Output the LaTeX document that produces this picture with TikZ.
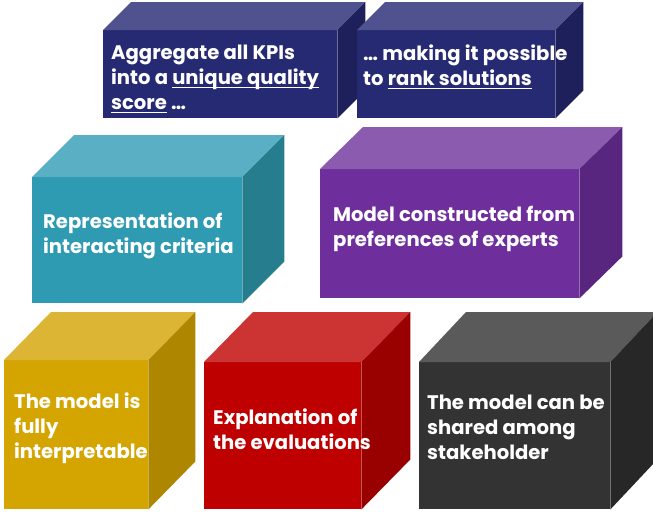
\documentclass[tikz,border=0pt]{standalone}
\usepackage{fontspec}
\setmainfont{Poppins}
\newsavebox\ulbox
\newcommand{\ulword}[1]{\sbox\ulbox{#1}\rlap{\rule[-3.5pt]{\wd\ulbox}{1.4pt}}\usebox\ulbox}
\definecolor{navyFront}{HTML}{262A72}
\definecolor{navyTop}{HTML}{50528F}
\definecolor{navySide}{HTML}{1E205C}
\definecolor{tealFront}{HTML}{2E9BB3}
\definecolor{tealTop}{HTML}{5BAFC4}
\definecolor{tealSide}{HTML}{267D8E}
\definecolor{plumFront}{HTML}{6E2E9C}
\definecolor{plumTop}{HTML}{8B5BAF}
\definecolor{plumSide}{HTML}{58267E}
\definecolor{goldFront}{HTML}{D4A500}
\definecolor{goldTop}{HTML}{DDB535}
\definecolor{goldSide}{HTML}{AE8600}
\definecolor{redFront}{HTML}{BF0000}
\definecolor{redTop}{HTML}{CC3333}
\definecolor{redSide}{HTML}{990000}
\definecolor{greyFront}{HTML}{333333}
\definecolor{greyTop}{HTML}{5A5A5A}
\definecolor{greySide}{HTML}{272727}
\tikzset{
  face/.style={draw=none, inner sep=0pt, anchor=north west},
  blurb/.style={text=white, font=\bfseries\fontsize{19.6}{25}\selectfont,
    align=left, anchor=west, inner sep=0pt},
}
\begin{document}
\begin{tikzpicture}[x=1pt,y=-1pt]
  \useasboundingbox (0,0) rectangle (653,515);
  % top row
  \node[face, fill=navyFront, minimum width=234pt, minimum height=88pt] (kpi) at (103,30) {};
  \fill[navyTop] (kpi.north west) -- ++(28,-28) -- ([shift={(28,-28)}]kpi.north east) -- (kpi.north east) -- cycle;
  \fill[navySide] (kpi.north east) -- ++(28,-28) -- ([shift={(28,-28)}]kpi.south east) -- (kpi.south east) -- cycle;
  \node[face, fill=navyFront, minimum width=198pt, minimum height=88pt] (rank) at (357,30) {};
  \fill[navyTop] (rank.north west) -- ++(28,-28) -- ([shift={(28,-28)}]rank.north east) -- (rank.north east) -- cycle;
  \fill[navySide] (rank.north east) -- ++(28,-28) -- ([shift={(28,-28)}]rank.south east) -- (rank.south east) -- cycle;
  % middle row
  \node[face, fill=tealFront, minimum width=210pt, minimum height=126pt] (crit) at (32,177) {};
  \fill[tealTop] (crit.north west) -- ++(42,-42) -- ([shift={(42,-42)}]crit.north east) -- (crit.north east) -- cycle;
  \fill[tealSide] (crit.north east) -- ++(42,-42) -- ([shift={(42,-42)}]crit.south east) -- (crit.south east) -- cycle;
  \node[face, fill=plumFront, minimum width=259pt, minimum height=129pt] (pref) at (320,169) {};
  \fill[plumTop] (pref.north west) -- ++(43,-42) -- ([shift={(43,-42)}]pref.north east) -- (pref.north east) -- cycle;
  \fill[plumSide] (pref.north east) -- ++(43,-42) -- ([shift={(43,-42)}]pref.south east) -- (pref.south east) -- cycle;
  % bottom row
  \node[face, fill=goldFront, minimum width=144pt, minimum height=149pt] (interp) at (4,360) {};
  \fill[goldTop] (interp.north west) -- ++(47,-48) -- ([shift={(47,-48)}]interp.north east) -- (interp.north east) -- cycle;
  \fill[goldSide] (interp.north east) -- ++(47,-48) -- ([shift={(47,-48)}]interp.south east) -- (interp.south east) -- cycle;
  \node[face, fill=redFront, minimum width=157pt, minimum height=147pt] (expl) at (204,362) {};
  \fill[redTop] (expl.north west) -- ++(49,-50) -- ([shift={(49,-50)}]expl.north east) -- (expl.north east) -- cycle;
  \fill[redSide] (expl.north east) -- ++(49,-50) -- ([shift={(49,-50)}]expl.south east) -- (expl.south east) -- cycle;
  \node[face, fill=greyFront, minimum width=191pt, minimum height=147pt] (share) at (419,362) {};
  \fill[greyTop] (share.north west) -- ++(47,-50) -- ([shift={(47,-50)}]share.north east) -- (share.north east) -- cycle;
  \fill[greySide] (share.north east) -- ++(47,-50) -- ([shift={(47,-50)}]share.south east) -- (share.south east) -- cycle;
  % texts
  \node[blurb] (kpiText) at (111,79) {Aggregate all KPIs\\into a \ulword{unique quality}\\\ulword{score} …};
  \node[blurb] (rankText) at (363,67) {… making it possible\\to \ulword{rank solutions}};
  \node[blurb] (critText) at (43,236) {Representation of\\interacting criteria};
  \node[blurb] (prefText) at (333,229) {Model constructed from\\preferences of experts};
  \node[blurb] (interpText) at (14,428) {The model is\\fully\\interpretable};
  \node[blurb] (explText) at (213,429) {Explanation of\\the evaluations};
  \node[blurb] (shareText) at (427,427) {The model can be\\shared among\\stakeholder};
\end{tikzpicture}
\end{document}
